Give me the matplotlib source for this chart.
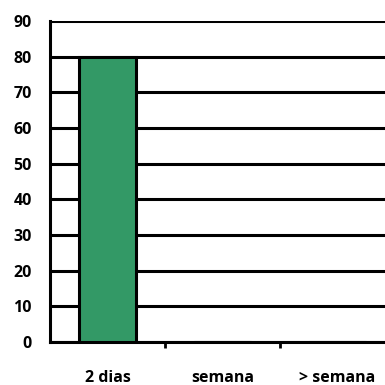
import numpy as np
import matplotlib.pyplot as plt

categorias = ["2 dias", "semana", "> semana"]
valores = [80, 0, 0]
yticks = [0, 10, 20, 30, 40, 50, 60, 70, 80, 90]

plt.rcParams['font.family'] = ['Open Sans', 'DejaVu Sans']
plt.rcParams['font.weight'] = 'bold'

fig = plt.figure(figsize=(3.85, 3.85), dpi=100)
ax = fig.add_axes([0.13, 0.112, 0.896, 0.833])

x = np.arange(len(categorias))
ax.bar(x, valores, width=0.5, color='#339966', edgecolor='black', linewidth=2.2, zorder=3)

ax.set_ylim(0, 90)
ax.set_xlim(-0.5, len(categorias) - 0.5)
ax.set_yticks(yticks)
ax.yaxis.grid(True, color='black', linewidth=2.2, zorder=0)
ax.set_axisbelow(True)

# ticks entre categorias, etiquetas centradas
ax.set_xticks(x[:-1] + 0.5)
ax.set_xticklabels([])
ax.set_xticks(x, minor=True)
ax.set_xticklabels(categorias, minor=True, fontsize=11.5, fontweight='bold')
ax.tick_params(axis='x', which='major', length=4, width=2, direction='out')
ax.tick_params(axis='x', which='minor', length=0, pad=20)
ax.tick_params(axis='y', length=0, labelsize=11.5, pad=13)
for lab in ax.get_yticklabels():
    lab.set_fontweight('bold')

for s in ['top', 'right']:
    ax.spines[s].set_visible(False)
for s in ['left', 'bottom']:
    ax.spines[s].set_linewidth(2.2)

fig.savefig('out.png', dpi=100)
